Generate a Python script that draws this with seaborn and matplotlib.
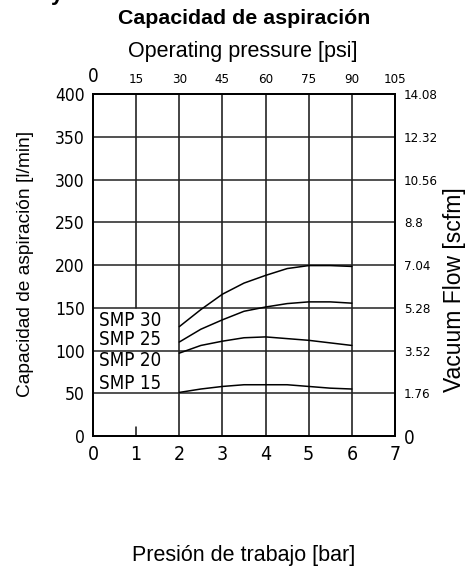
import numpy as np
import pandas as pd
import matplotlib
matplotlib.use('Agg')
import matplotlib.pyplot as plt
import seaborn as sns

# values
pressure_bar = [2, 2.5, 3, 3.5, 4, 4.5, 5, 5.5, 6]
smp30 = [128, 148, 166, 179, 188, 196, 199.5, 199.5, 198.5]
smp25 = [110, 125, 136, 146, 151, 155, 157, 157, 155.5]
smp20 = [97, 106, 111, 115, 116, 114, 112, 109, 106]
smp15 = [51, 55, 58, 60, 60, 60, 58, 56, 55]
models = ['SMP 30', 'SMP 25', 'SMP 20', 'SMP 15']
label_flow = [135, 113, 88, 61]

bar_ticks = [0, 1, 2, 3, 4, 5, 6, 7]
psi_labels = ['0', '15', '30', '45', '60', '75', '90', '105']
flow_ticks = [0, 50, 100, 150, 200, 250, 300, 350, 400]
scfm_labels = ['0', '1.76', '3.52', '5.28', '7.04', '8.8', '10.56', '12.32', '14.08']

sns.set_style('white')
plt.rcParams['font.family'] = ['Liberation Sans', 'DejaVu Sans']
plt.rcParams['text.color'] = 'black'
plt.rcParams['xtick.color'] = 'black'
plt.rcParams['ytick.color'] = 'black'

df = pd.DataFrame({
    'bar': pressure_bar * 4,
    'flow': smp30 + smp25 + smp20 + smp15,
    'model': np.repeat(models, len(pressure_bar)),
})

cad = dict(family='DejaVu Sans', fontstretch='condensed')

fig = plt.figure(figsize=(4.67, 5.66), dpi=100)
ax = fig.add_axes([93 / 467, 1 - 436 / 566, 302 / 467, 341.7 / 566])

sns.lineplot(data=df, x='bar', y='flow', hue='model', palette=['black'] * 4,
             linewidth=1.1, legend=False, ax=ax)
ax.set_xlim(0, 7)
ax.set_ylim(0, 400)
ax.set_xlabel('')
ax.set_ylabel('')

# grid: the 1 bar line stops at the label box
for x in bar_ticks[2:-1]:
    ax.axvline(x, color='#111111', lw=1.1, zorder=0)
ax.axvline(1, ymin=150 / 400, color='#111111', lw=1.1, zorder=0)
ax.axvline(1, ymax=0.025, color='#111111', lw=1.1, zorder=0)
for y in flow_ticks[1:-1]:
    ax.axhline(y, color='#222222', lw=1.1, zorder=0)

for name, y in zip(models, label_flow):
    ax.text(0.15, y, name, va='center', ha='left', fontsize=13.5, **cad)

ax.set_xticks(bar_ticks)
ax.set_xticklabels([str(b) for b in bar_ticks], fontsize=14, **cad)
ax.set_yticks(flow_ticks)
ax.set_yticklabels([str(f) for f in flow_ticks], fontsize=12.5, **cad)
ax.tick_params(axis='x', length=0, pad=6.5)
ax.tick_params(axis='y', length=0, pad=6)

ax_top = ax.twiny()
ax_top.set_xlim(0, 7)
ax_top.set_xticks(bar_ticks)
ax_top.set_xticklabels(psi_labels, fontsize=9.5, **cad)
ax_top.get_xticklabels()[0].set_fontsize(13.5)
ax_top.tick_params(axis='x', length=0, pad=6)

ax_right = ax.twinx()
ax_right.set_ylim(0, 400)
ax_right.set_yticks(flow_ticks)
ax_right.set_yticklabels(scfm_labels, fontsize=9.5, **cad)
ax_right.get_yticklabels()[0].set_fontsize(13.5)
ax_right.tick_params(axis='y', length=0, pad=6.5)

for a in (ax, ax_top, ax_right):
    for s in a.spines.values():
        s.set_color('black')
        s.set_linewidth(1.2)

fig.text(57 / 467, 1.0, 'y', ha='center', va='baseline', fontsize=16, fontweight='bold')
fig.text(244 / 467, 1 - 18 / 566, 'Capacidad de aspiración', ha='center', va='center',
         fontsize=15.4, fontweight='bold')
fig.text(243 / 467, 1 - 52 / 566, 'Operating pressure [psi]', ha='center', va='center', fontsize=15.5)
fig.text(26 / 467, 1 - 264 / 566, 'Capacidad de aspiración [l/min]', ha='center', va='center',
         rotation=90, fontsize=13.8)
fig.text(455 / 467, 1 - 290 / 566, 'Vacuum Flow [scfm]', ha='center', va='center',
         rotation=90, fontsize=16.5)
fig.text(244 / 467, 1 - 556 / 566, 'Presión de trabajo [bar]', ha='center', va='center', fontsize=15.5)

fig.savefig('out.png', dpi=100)
